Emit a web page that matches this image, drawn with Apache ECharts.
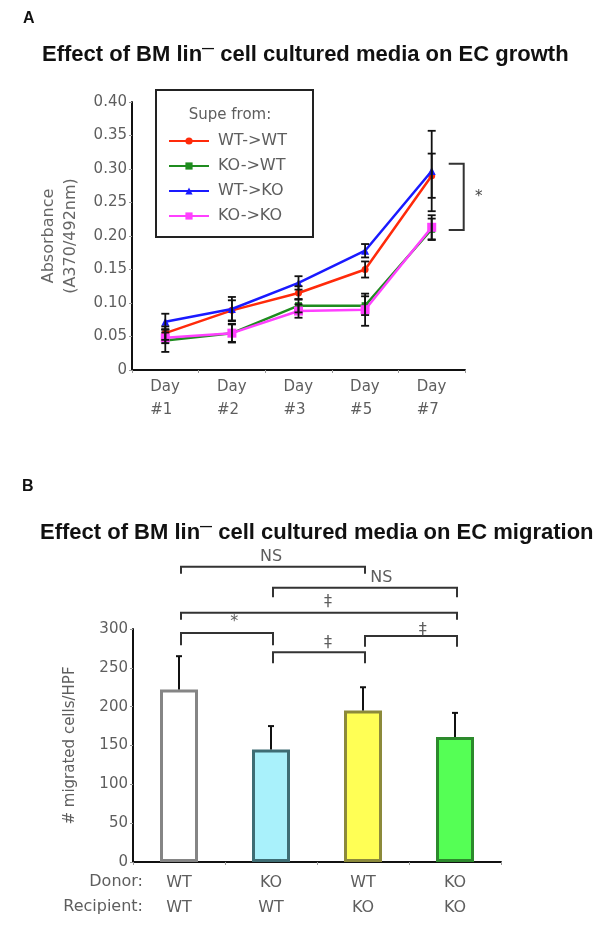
<!DOCTYPE html>
<html><head><meta charset="utf-8">
<script src="https://cdn.jsdelivr.net/npm/echarts@6/dist/echarts.min.js"></script>
<style>html,body{margin:0;padding:0;background:#fff}#c{width:600px;height:945px}</style>
</head><body><div id="c"></div>
<script>
// ---------- Panel A data ----------
const days = ['Day\n#1', 'Day\n#2', 'Day\n#3', 'Day\n#5', 'Day\n#7'];
const seriesNames = ['WT->WT', 'KO->WT', 'WT->KO', 'KO->KO'];
const wtwt    = [0.055, 0.089, 0.115, 0.150, 0.290];
const wtwtErr = [0.010, 0.015, 0.010, 0.012, 0.033];
const kowt    = [0.044, 0.055, 0.096, 0.096, 0.210];
const kowtErr = [0.017, 0.013, 0.010, 0.014, 0.016];
const wtko    = [0.072, 0.091, 0.130, 0.178, 0.297];
const wtkoErr = [0.012, 0.018, 0.010, 0.010, 0.060];
const koko    = [0.048, 0.055, 0.088, 0.090, 0.213];
const kokoErr = [0.008, 0.014, 0.010, 0.024, 0.018];
const sigA = [0.308, 0.209];           // bracket span (Day #7)
const sigALabel = '*';

// ---------- Panel B data ----------
const donors     = ['WT', 'KO', 'WT', 'KO'];
const recipients = ['WT', 'WT', 'KO', 'KO'];
const migrated    = [222, 145, 195, 161];
const migratedErr = [43, 30, 30, 31];
// brackets: from/to group index, bar level, tick end level, label level, label x (group units), label
const bFrom  = [0, 1, 0, 0, 1, 2];
const bTo    = [2, 3, 3, 1, 2, 3];
const bLevel = [380, 353, 321, 295, 270, 291];
const bTick  = [371, 341, 312, 279, 256, 277];
const bLabY  = [393, 366, 335, 309, 282, 299];
const bLabX  = [1.0, 2.2, 1.62, 0.6, 1.62, 2.65];
const bText  = ['NS', 'NS', '‡', '*', '‡', '‡'];

// ---------- styles ----------
const FONT = 'DejaVu Sans, Verdana, sans-serif';
const TFONT = 'Liberation Sans, Arial, sans-serif';
const colorsA = ['#ff2a0a', '#1f8c1f', '#1a1aff', '#ff40ff'];
const symbolsA = ['circle', 'rect', 'triangle', 'rect'];
const symSizeA = [7, 7, 8, 9];
const barFill = ['#ffffff', '#a9f1fb', '#ffff55', '#55ff55'];
const barBorder = ['#858585', '#3e6d74', '#8c8a3a', '#2c8a2c'];

const valuesA = [wtwt, kowt, wtko, koko];
const errsA = [wtwtErr, kowtErr, wtkoErr, kokoErr];

const chart = echarts.init(document.getElementById('c'), null, {renderer: 'canvas'});

const errDataA = [];
valuesA.forEach((vals, s) => vals.forEach((v, d) => errDataA.push([d, v - errsA[s][d], v + errsA[s][d]])));

function errRender(params, api) {
  const x = api.value(0);
  const lo = api.coord([x, api.value(1)]);
  const hi = api.coord([x, api.value(2)]);
  const w = 4;
  const st = {stroke: '#111', lineWidth: 1.8};
  return {type: 'group', children: [
    {type: 'line', shape: {x1: lo[0], y1: lo[1], x2: hi[0], y2: hi[1]}, style: st},
    {type: 'line', shape: {x1: lo[0] - w, y1: lo[1], x2: lo[0] + w, y2: lo[1]}, style: st},
    {type: 'line', shape: {x1: hi[0] - w, y1: hi[1], x2: hi[0] + w, y2: hi[1]}, style: st}
  ]};
}

const lineSeries = seriesNames.map((n, s) => ({
  name: n, type: 'line', xAxisIndex: 0, yAxisIndex: 0,
  data: valuesA[s], symbol: symbolsA[s], symbolSize: symSizeA[s],
  lineStyle: {color: colorsA[s], width: 2.5}, itemStyle: {color: colorsA[s]},
  z: 3 + s
}));

const TXT = '#5e5e5e';
const tickLabelStyle = {color: TXT, fontSize: 15, fontFamily: FONT};
const titleRich = {s: {fontSize: 12, fontWeight: 'bold', color: '#111', verticalAlign: 'top', lineHeight: 12, fontFamily: TFONT}};

const option = {
  animation: false,
  backgroundColor: '#fff',
  title: [
    {text: 'A', left: 18, top: 6, textStyle: {fontSize: 16, fontWeight: 'bold', color: '#111', fontFamily: TFONT}},
    {text: 'Effect of BM lin{s|—} cell cultured media on EC growth', left: 37, top: 38,
     textStyle: {fontSize: 22, fontWeight: 'bold', color: '#111', fontFamily: TFONT, lineHeight: 24, rich: titleRich}},
    {text: 'B', left: 17, top: 474, textStyle: {fontSize: 16, fontWeight: 'bold', color: '#111', fontFamily: TFONT}},
    {text: 'Effect of BM lin{s|—} cell cultured media on EC migration', left: 35, top: 516,
     textStyle: {fontSize: 22, fontWeight: 'bold', color: '#111', fontFamily: TFONT, lineHeight: 24, rich: titleRich}}
  ],
  legend: {
    data: seriesNames, orient: 'vertical', left: 163, top: 128,
    itemWidth: 40, itemHeight: 9, itemGap: 9,
    textStyle: {color: TXT, fontSize: 16, fontFamily: FONT, padding: [0, 0, 0, 4]},
    selectedMode: false
  },
  graphic: [
    {type: 'rect', shape: {x: 156, y: 90, width: 157, height: 147}, style: {fill: 'none', stroke: '#222', lineWidth: 2}, z: 10},
    {type: 'text', x: 230, y: 115, style: {text: 'Supe from:', fill: TXT, fontSize: 15, fontFamily: FONT, textAlign: 'center', textVerticalAlign: 'middle'}},
    {type: 'text', x: 143, y: 882, style: {text: 'Donor:', fill: TXT, fontSize: 16, fontFamily: FONT, textAlign: 'right', textVerticalAlign: 'middle'}},
    {type: 'text', x: 143, y: 907, style: {text: 'Recipient:', fill: TXT, fontSize: 16, fontFamily: FONT, textAlign: 'right', textVerticalAlign: 'middle'}}
  ],
  grid: [
    {left: 132, top: 102, width: 333, height: 268},
    {left: 133, top: 629, width: 368, height: 233}
  ],
  xAxis: [
    {gridIndex: 0, type: 'category', data: days, boundaryGap: true,
     axisLine: {lineStyle: {color: '#111', width: 2}},
     axisTick: {show: true, length: 3, lineStyle: {color: '#999'}},
     axisLabel: {interval: 0, hideOverlap: false, margin: 6, color: TXT, fontSize: 15, fontFamily: FONT, lineHeight: 23,
       formatter: v => v.split('\n').map(s => '{a|' + s + '}').join('\n'),
       rich: {a: {width: 30, align: 'left', color: TXT, fontSize: 15, fontFamily: FONT, lineHeight: 23}}}},
    {gridIndex: 1, type: 'category', data: donors.map((d, i) => i), boundaryGap: true,
     axisLine: {lineStyle: {color: '#111', width: 2}},
     axisTick: {show: true, length: 3, lineStyle: {color: '#999'}},
     axisLabel: {interval: 0, margin: 8, color: TXT, fontSize: 16, fontFamily: FONT, lineHeight: 25,
       formatter: (v, i) => donors[i] + '\n' + recipients[i]}}
  ],
  yAxis: [
    {gridIndex: 0, type: 'value', min: 0, max: 0.4, interval: 0.05,
     name: 'Absorbance\n(A370/492nm)', nameLocation: 'middle', nameGap: 50,
     nameTextStyle: {color: '#666', fontSize: 16, fontFamily: FONT, lineHeight: 22},
     axisLine: {show: true, lineStyle: {color: '#111', width: 2}},
     axisTick: {show: true, length: 3, lineStyle: {color: '#999'}},
     splitLine: {show: false},
     axisLabel: Object.assign({margin: 5, formatter: v => v === 0 ? '0' : v.toFixed(2)}, tickLabelStyle)},
    {gridIndex: 1, type: 'value', min: 0, max: 300, interval: 50,
     name: '# migrated cells/HPF', nameLocation: 'middle', nameGap: 55,
     nameTextStyle: {color: TXT, fontSize: 15, fontFamily: FONT},
     axisLine: {show: true, lineStyle: {color: '#111', width: 2}},
     axisTick: {show: true, length: 3, lineStyle: {color: '#999'}},
     splitLine: {show: false},
     axisLabel: Object.assign({margin: 5}, tickLabelStyle)}
  ],
  series: lineSeries.concat([
    {type: 'custom', xAxisIndex: 0, yAxisIndex: 0, data: errDataA, renderItem: errRender, z: 10, clip: false,
     encode: {x: 0, y: [1, 2]}},
    {type: 'custom', xAxisIndex: 0, yAxisIndex: 0, data: [[days.length - 1, sigA[0], sigA[1]]], clip: false, z: 10,
     encode: {x: 0, y: [1, 2]},
     renderItem: (params, api) => {
       const top = api.coord([api.value(0), api.value(1)]);
       const bot = api.coord([api.value(0), api.value(2)]);
       const x = top[0] + 32;
       const st = {stroke: '#333', lineWidth: 2, fill: 'none'};
       return {type: 'group', children: [
         {type: 'polyline', shape: {points: [[x - 15, top[1]], [x, top[1]], [x, bot[1]], [x - 15, bot[1]]]}, style: st},
         {type: 'text', style: {text: sigALabel, x: x + 15, y: (top[1] + bot[1]) / 2, fill: '#444', fontSize: 15, fontFamily: FONT, textAlign: 'center', textVerticalAlign: 'middle'}}
       ]};
     }},
    {type: 'bar', xAxisIndex: 1, yAxisIndex: 1, barWidth: 38,
     data: migrated.map((v, i) => ({value: v, itemStyle: {color: barFill[i], borderColor: barBorder[i], borderWidth: 3}})),
     z: 2},
    {type: 'custom', xAxisIndex: 1, yAxisIndex: 1, clip: false, z: 5,
     data: migrated.map((v, i) => [i, v, v + migratedErr[i]]),
     encode: {x: 0, y: [1, 2]},
     renderItem: (params, api) => {
       const lo = api.coord([api.value(0), api.value(1)]);
       const hi = api.coord([api.value(0), api.value(2)]);
       const st = {stroke: '#111', lineWidth: 2};
       return {type: 'group', children: [
         {type: 'line', shape: {x1: lo[0], y1: lo[1], x2: hi[0], y2: hi[1]}, style: st},
         {type: 'line', shape: {x1: hi[0] - 3, y1: hi[1], x2: hi[0] + 3, y2: hi[1]}, style: st}
       ]};
     }},
    {type: 'custom', xAxisIndex: 1, yAxisIndex: 1, clip: false, z: 5,
     data: bFrom.map((f, i) => [f, bTo[i], bLevel[i], bTick[i], bLabY[i], bLabX[i]]),
     encode: {x: [0, 1], y: [2, 3, 4]},
     renderItem: (params, api) => {
       const i = params.dataIndex;
       const a = api.coord([api.value(0), api.value(2)]);
       const b = api.coord([api.value(1), api.value(2)]);
       const t = api.coord([api.value(0), api.value(3)]);
       const l = api.coord([api.value(0), api.value(4)]);
       const c0 = api.coord([0, 0]), c1 = api.coord([1, 0]);
       const lx = c0[0] + (c1[0] - c0[0]) * api.value(5);
       const dx = 2;
       const st = {stroke: '#333', lineWidth: 2, fill: 'none'};
       return {type: 'group', children: [
         {type: 'polyline', shape: {points: [[a[0] + dx, t[1]], [a[0] + dx, a[1]], [b[0] + dx, b[1]], [b[0] + dx, t[1]]]}, style: st},
         {type: 'text', style: {text: bText[i], x: lx, y: l[1], fill: TXT, fontSize: 16, fontFamily: FONT, textAlign: 'center', textVerticalAlign: 'middle'}}
       ]};
     }}
  ])
};
chart.setOption(option);
</script>
</body></html>
